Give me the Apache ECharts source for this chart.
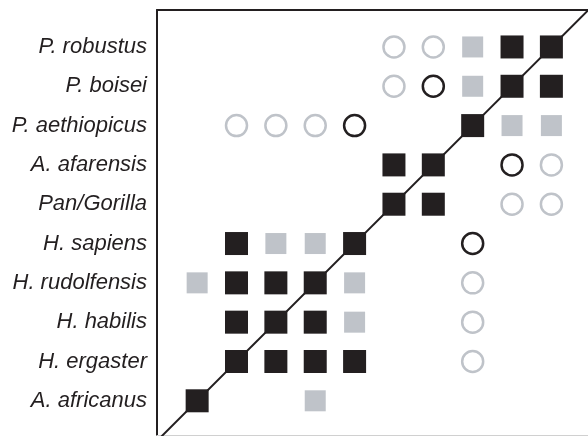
<!DOCTYPE html>
<html>
<head>
<meta charset="utf-8">
<script src="https://cdn.jsdelivr.net/npm/echarts@6/dist/echarts.min.js"></script>
<style>
html, body { margin: 0; padding: 0; background: #fff; }
#main { width: 588px; height: 436px; }
</style>
</head>
<body>
<div id="main"></div>
<script>
// 行名（下から上へ 0..9）
var taxa = ['A. africanus', 'H. ergaster', 'H. habilis', 'H. rudolfensis', 'H. sapiens',
            'Pan/Gorilla', 'A. afarensis', 'P. aethiopicus', 'P. boisei', 'P. robustus'];
var rowTicks = [0, 1, 2, 3, 4, 5, 6, 7, 8, 9];

// [列, 行]
var blackSquares = [
    [8, 9], [9, 9],
    [8, 8], [9, 8],
    [7, 7],
    [5, 6], [6, 6],
    [5, 5], [6, 5],
    [1, 4], [4, 4],
    [1, 3], [2, 3], [3, 3],
    [1, 2], [2, 2], [3, 2],
    [1, 1], [2, 1], [3, 1], [4, 1],
    [0, 0]
];
var graySquares = [
    [7, 9],
    [7, 8],
    [8, 7], [9, 7],
    [2, 4], [3, 4],
    [0, 3], [4, 3],
    [4, 2],
    [3, 0]
];
var blackCircles = [[6, 8], [4, 7], [8, 6], [7, 4]];
var grayCircles = [
    [5, 9], [6, 9],
    [5, 8],
    [1, 7], [2, 7], [3, 7],
    [9, 6],
    [8, 5], [9, 5],
    [7, 3], [7, 2], [7, 1]
];
var diagonal = [[-2, -2], [11, 11]];

var dark = '#231f20';
var gray = '#bfc3c9';

var chart = echarts.init(document.getElementById('main'));
var option = {
    animation: false,
    backgroundColor: '#fff',
    grid: { left: 157, top: 10, width: 431, height: 425, containLabel: false },
    xAxis: [{
        type: 'value', position: 'top', min: -1.02, max: 9.93,
        axisLine: { show: true, onZero: false, lineStyle: { color: dark, width: 2 } },
        axisTick: { show: false }, axisLabel: { show: false }, splitLine: { show: false }
    }, {
        type: 'value', position: 'bottom', min: -1.02, max: 9.93,
        axisLine: { show: true, onZero: false, lineStyle: { color: '#d0d0d0', width: 1 } },
        axisTick: { show: false }, axisLabel: { show: false }, splitLine: { show: false }
    }],
    yAxis: {
        type: 'value', min: -0.87, max: 9.94,
        axisLine: { show: true, onZero: false, lineStyle: { color: dark, width: 2 } },
        axisTick: { show: false }, splitLine: { show: false },
        axisLabel: {
            customValues: rowTicks,
            margin: 10,
            fontFamily: 'Liberation Sans, Arial, sans-serif',
            fontStyle: 'italic',
            fontSize: 22,
            color: dark,
            formatter: function (v) { return taxa[Math.round(v)]; }
        }
    },
    series: [{
        type: 'line', data: diagonal, symbol: 'none', clip: true,
        lineStyle: { color: dark, width: 2 }, z: 1
    }, {
        type: 'scatter', data: graySquares, symbol: 'rect', symbolSize: 21,
        itemStyle: { color: gray, opacity: 1 }, z: 2
    }, {
        type: 'scatter', data: blackSquares, symbol: 'rect', symbolSize: 23,
        itemStyle: { color: dark, opacity: 1 }, z: 3
    }, {
        type: 'scatter', data: grayCircles, symbol: 'circle', symbolSize: 21,
        itemStyle: { color: '#fff', borderColor: gray, borderWidth: 2.5, opacity: 1 }, z: 2
    }, {
        type: 'scatter', data: blackCircles, symbol: 'circle', symbolSize: 21,
        itemStyle: { color: '#fff', borderColor: dark, borderWidth: 2.5, opacity: 1 }, z: 3
    }]
};
chart.setOption(option);
</script>
</body>
</html>
